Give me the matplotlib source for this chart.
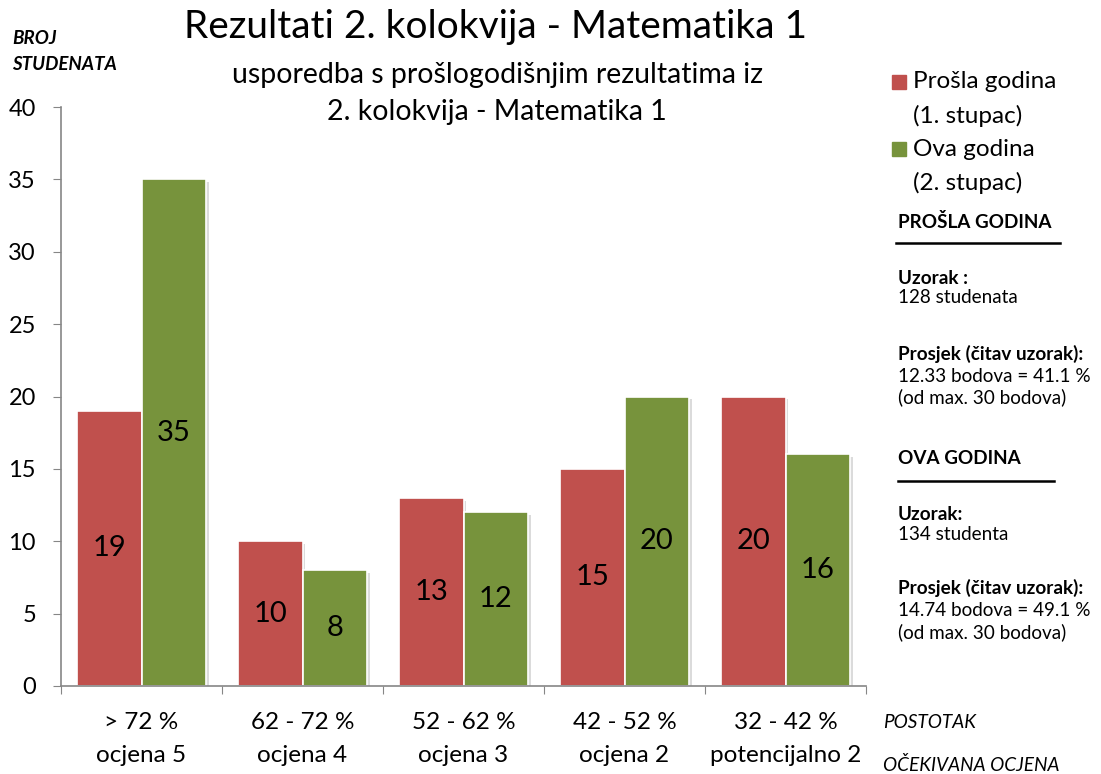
import matplotlib.pyplot as plt
import matplotlib.patheffects as pe
import numpy as np

plt.rcParams['font.family'] = ['Lato', 'DejaVu Sans']

# podaci
kategorije = ['> 72 %\nocjena 5', '62 - 72 %\nocjena 4', '52 - 62 %\nocjena 3',
              '42 - 52 %\nocjena 2', '32 - 42 %\npotencijalno 2']
prosla_godina = [19, 10, 13, 15, 20]
ova_godina = [35, 8, 12, 20, 16]
y_ticks = [0, 5, 10, 15, 20, 25, 30, 35, 40]

crvena = '#C0504D'
zelena = '#77933C'
siva = '#868686'

W, H = 1101, 774


def px(x, y):
    """Pretvara piksele u koordinate figure."""
    return x / W, 1 - y / H


fig = plt.figure(figsize=(W / 100, H / 100), dpi=100)
ax = fig.add_axes([61 / W, 1 - 686 / H, (866 - 61) / W, (686 - 107) / H])

x = np.arange(len(kategorije))
sjena = [pe.SimplePatchShadow(offset=(2, -2), shadow_rgbFace='#999999', alpha=0.35), pe.Normal()]
ax.bar(x - 0.2, prosla_godina, width=0.4, color=crvena, edgecolor='white', linewidth=1.2,
       path_effects=sjena)
ax.bar(x + 0.2, ova_godina, width=0.4, color=zelena, edgecolor='white', linewidth=1.2,
       path_effects=sjena)

# vrijednosti u sredini stupaca
for serija, pomak in ((prosla_godina, -0.2), (ova_godina, 0.2)):
    for xi, v in zip(x, serija):
        ax.text(xi + pomak, v / 2, str(v), ha='center', va='center', fontsize=21, color='black')

ax.set_xlim(-0.5, len(kategorije) - 0.5)
ax.set_ylim(0, 40)
ax.set_yticks(y_ticks)
ax.set_yticklabels([str(t) for t in y_ticks], fontsize=17)
ax.set_xticks(np.arange(len(kategorije) + 1) - 0.5)
ax.set_xticklabels([])
ax.set_xticks(x, minor=True)
ax.set_xticklabels(kategorije, minor=True, fontsize=17.5, linespacing=1.7)
ax.tick_params(axis='x', which='minor', length=0, pad=19)
ax.tick_params(axis='x', which='major', length=6, color=siva, direction='out')
ax.tick_params(axis='y', length=6, color=siva, direction='out', pad=12)

for s in ('top', 'right'):
    ax.spines[s].set_visible(False)
for s in ('left', 'bottom'):
    ax.spines[s].set_color(siva)
    ax.spines[s].set_linewidth(1.2)

# naslovi
fig.text(*px(495, 27), 'Rezultati 2. kolokvija - Matematika 1', ha='center', va='center', fontsize=28)
fig.text(*px(497, 75), 'usporedba s prošlogodišnjim rezultatima iz', ha='center', va='center', fontsize=20.5)
fig.text(*px(497, 112), '2. kolokvija - Matematika 1', ha='center', va='center', fontsize=20.5)

fig.text(*px(12, 38), 'BROJ', ha='left', va='center', fontsize=13.5, fontweight='bold', fontstyle='italic')
fig.text(*px(12, 64), 'STUDENATA', ha='left', va='center', fontsize=13.5, fontweight='bold', fontstyle='italic')

fig.text(*px(883, 722), 'POSTOTAK', ha='left', va='center', fontsize=13.7, fontstyle='italic')
fig.text(*px(883, 765), 'OČEKIVANA OCJENA', ha='left', va='center', fontsize=13.7, fontstyle='italic')

# legenda
leg = fig.add_axes([0, 0, 1, 1], facecolor='none')
leg.set_xlim(0, W)
leg.set_ylim(H, 0)
leg.axis('off')
leg.add_patch(plt.Rectangle((892, 75), 14, 14, color=crvena))
leg.add_patch(plt.Rectangle((892, 142), 14, 14, color=zelena))
fig.text(*px(913, 82), 'Prošla godina', ha='left', va='center', fontsize=17.5)
fig.text(*px(913, 116), '(1. stupac)', ha='left', va='center', fontsize=17.5)
fig.text(*px(913, 150), 'Ova godina', ha='left', va='center', fontsize=17.5)
fig.text(*px(913, 183), '(2. stupac)', ha='left', va='center', fontsize=17.5)

# statistika
blokovi = [
    (222, 'PROŠLA GODINA', True),
    (279, 'Uzorak :', True),
    (298, '128 studenata', False),
    (354, 'Prosjek (čitav uzorak):', True),
    (376, '12.33 bodova = 41.1 %', False),
    (397, '(od max. 30 bodova)', False),
    (458, 'OVA GODINA', True),
    (514, 'Uzorak:', True),
    (534, '134 studenta', False),
    (588, 'Prosjek (čitav uzorak):', True),
    (610, '14.74 bodova = 49.1 %', False),
    (632, '(od max. 30 bodova)', False),
]
for yy, tekst, bold in blokovi:
    fig.text(*px(898, yy), tekst, ha='left', va='center', fontsize=13.6,
             fontweight='bold' if bold else 'normal')
leg.plot([896, 1060], [243, 243], color='black', lw=1.8)
leg.plot([898, 1054], [481, 481], color='black', lw=1.8)

fig.savefig('out.png', dpi=100)
